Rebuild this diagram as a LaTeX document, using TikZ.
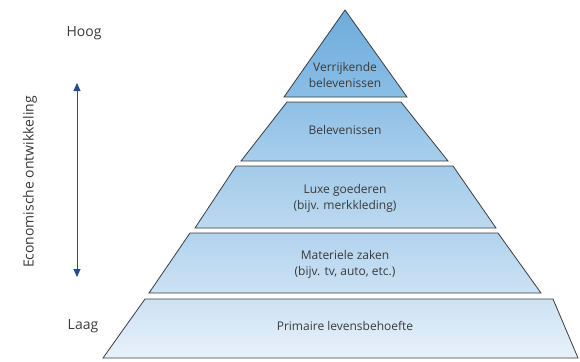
\documentclass[tikz,border=0pt]{standalone}
\usepackage{fontspec}
\setmainfont{Open Sans}
\usetikzlibrary{arrows.meta}
\definecolor{txt}{HTML}{3A3A3A}
\definecolor{arrowblue}{HTML}{1F4E8C}
\definecolor{edge}{HTML}{3C3C3C}
\tikzset{
  tier/.style={draw=edge, line width=0.8pt, line join=miter},
  lbl/.style={text=txt, font=\fontsize{12}{16}\selectfont, align=center, inner sep=0pt},
  side/.style={text=txt, font=\fontsize{14}{16}\selectfont, inner sep=0pt}
}
\begin{document}
\begin{tikzpicture}[x=1pt,y=-1pt]
\useasboundingbox (0,0) rectangle (580,361);
% tiers
\shade[top color={rgb,255:red,110;green,172;blue,220}, bottom color={rgb,255:red,138;green,190;blue,230}]
  (345,10) -- (407,97) -- (284,97) -- cycle;
\draw[tier] (345,10) -- (407,97) -- (284,97) -- cycle;
\shade[top color={rgb,255:red,142;green,192;blue,230}, bottom color={rgb,255:red,168;green,206;blue,236}]
  (287,102) -- (401,102) -- (448,161) -- (241,161) -- cycle;
\draw[tier] (287,102) -- (401,102) -- (448,161) -- (241,161) -- cycle;
\shade[top color={rgb,255:red,162;green,203;blue,234}, bottom color={rgb,255:red,188;green,217;blue,240}]
  (236,166) -- (453,166) -- (496,228) -- (195,228) -- cycle;
\draw[tier] (236,166) -- (453,166) -- (496,228) -- (195,228) -- cycle;
\shade[top color={rgb,255:red,178;green,211;blue,238}, bottom color={rgb,255:red,204;green,226;blue,244}]
  (190,233) -- (498,233) -- (541,293) -- (149,293) -- cycle;
\draw[tier] (190,233) -- (498,233) -- (541,293) -- (149,293) -- cycle;
\shade[top color={rgb,255:red,204;green,226;blue,244}, bottom color={rgb,255:red,232;green,241;blue,250}]
  (145,299) -- (553,299) -- (578,358) -- (103,358) -- cycle;
\draw[tier] (145,299) -- (553,299) -- (578,358) -- (103,358) -- cycle;
% labels
\node[lbl] (t1) at (345,75) {Verrijkende\\belevenissen};
\node[lbl] (t2) at (345,130) {Belevenissen};
\node[lbl] (t3) at (345,198) {Luxe goederen\\(bijv. merkkleding)};
\node[lbl] (t4) at (345,264) {Materiele zaken\\(bijv. tv, auto, etc.)};
\node[lbl] (t5) at (345,326) {Primaire levensbehoefte};
% side
\node[side] (hoog) at (84,33) {Hoog};
\node[side] (laag) at (83,326) {Laag};
\node[side, rotate=90] (eco) at (30,182) {Economische ontwikkeling};
\coordinate (atop) at (77,83);
\coordinate (abot) at (77,277);
\draw[arrowblue, line width=0.9pt, {Triangle[length=8pt,width=7pt]}-{Triangle[length=8pt,width=7pt]}] (atop) -- (abot);
\end{tikzpicture}
\end{document}
